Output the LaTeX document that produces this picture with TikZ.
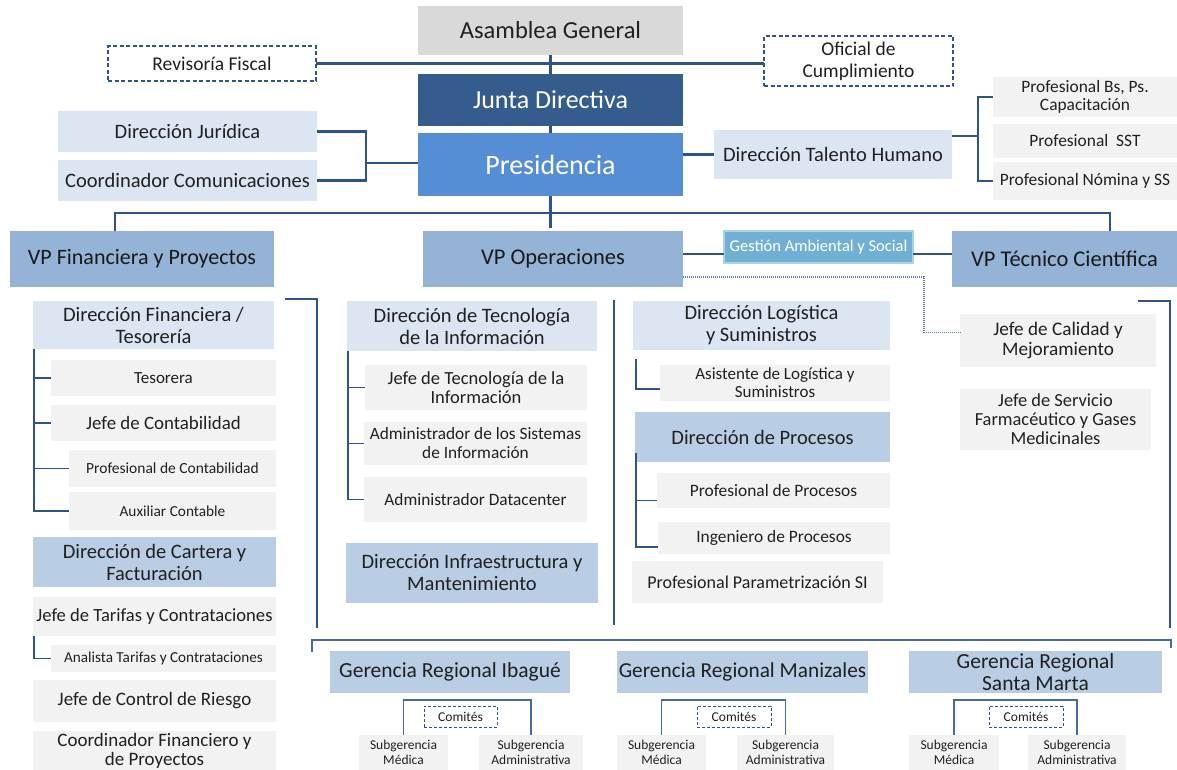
\documentclass[tikz,border=0pt]{standalone}
\usepackage{fontspec}
\setmainfont{Carlito}
\usetikzlibrary{calc}

\definecolor{lnc}{RGB}{47,84,140}
\definecolor{lnr}{RGB}{70,108,158}
\definecolor{dotc}{RGB}{95,125,170}
\definecolor{txt}{RGB}{32,32,32}
\definecolor{asamc}{RGB}{217,217,217}
\definecolor{juntac}{RGB}{52,93,142}
\definecolor{presc}{RGB}{85,142,213}
\definecolor{ltc}{RGB}{220,230,242}
\definecolor{grc}{RGB}{242,242,242}
\definecolor{vpc}{RGB}{149,179,215}
\definecolor{mdc}{RGB}{185,205,229}
\definecolor{gasc}{RGB}{113,176,211}
\definecolor{gasb}{RGB}{168,212,230}

\newcommand\fz[2]{\fontsize{#1}{#2}\selectfont}

\tikzset{
  x=1pt, y=1pt,
  bx/.style={inner sep=0pt, outer sep=0pt, align=center, text=txt},
  rc/.style args={#1/#2/#3/#4}{at={({(#1+#3)/2},{-(#2+#4)/2})},
      minimum width={(#3)-(#1)}, minimum height={(#4)-(#2)}},
  grbox/.style={bx, fill=grc},
  ltbox/.style={bx, fill=ltc},
  mdbox/.style={bx, fill=mdc},
  vpbox/.style={bx, fill=vpc, text=black!90},
  dsbox/.style={bx, fill=white, draw=lnc, line width=1.2pt, dash pattern=on 4pt off 2.5pt},
  ln/.style={draw=lnc, line width=2.2pt},
  lns/.style={draw=lnc, line width=1.6pt},
  lnreg/.style={draw=lnr, line width=1.5pt},
  dotl/.style={draw=dotc, line width=1.3pt, dash pattern=on 1pt off 1pt},
}

\begin{document}
\begin{tikzpicture}
\path[use as bounding box] (0,0) rectangle (1177,-769);

% ---- top governance ----
\node[bx, fill=asamc, rc=418/6/683/55, font=\fz{24.5}{26}] (asam) {Asamblea General};
\node[dsbox, rc=108/46/316/81, font=\fz{19.5}{21}] (rev) {Revisoría Fiscal};
\node[dsbox, rc=764/36/953/86, font=\fz{19.5}{22}] (ofi) {Oficial de\\Cumplimiento};
\node[bx, fill=juntac, text=white, rc=418/74/683/126, font=\fz{26}{28}] (junta) {Junta Directiva};
\node[bx, fill=presc, text=white, rc=418/133/683/196, font=\fz{28}{30}] (pres) {Presidencia};

\node[ltbox, rc=58/111/317/152, font=\fz{20.5}{22}] (jur) {Dirección Jurídica};
\node[ltbox, rc=58/160/317/201, font=\fz{20.5}{22}] (coo) {Coordinador Comunicaciones};
\node[ltbox, rc=714/130/952/179, font=\fz{20.5}{22}] (tal) {Dirección Talento Humano};

\node[grbox, rc=993/77/1177/117, font=\fz{17.4}{17.5}] (bs) {Profesional Bs, Ps.\\Capacitación};
\node[grbox, rc=993/124/1177/158, font=\fz{17.4}{18}] (sst) {Profesional\ \ SST};
\node[grbox, rc=993/162/1177/200, font=\fz{17.4}{18}] (nom) {Profesional Nómina y SS};

% ---- vice presidencies ----
\node[vpbox, rc=10/231/274/287, font=\fz{22}{24}] (vpf) {VP Financiera y Proyectos};
\node[vpbox, rc=423/231/683/287, font=\fz{22.5}{24}] (vpo) {VP Operaciones};
\node[bx, fill=gasc, draw=gasb, line width=1.2pt, text=white, rc=724/231/913/263, font=\fz{16.5}{18}] (gas) {Gestión Ambiental y Social};
\node[vpbox, rc=952/231/1177/287, font=\fz{22.5}{24}] (vpt) {VP Técnico Científica};

% ---- financial column ----
\node[ltbox, rc=33/301/274/349, font=\fz{20.5}{22}] (dfin) {Dirección Financiera /\\Tesorería};
\node[grbox, rc=51/360/276/396, font=\fz{17}{18}] (tes) {Tesorera};
\node[grbox, rc=51/405/276/441, font=\fz{18.9}{20}] (con) {Jefe de Contabilidad};
\node[grbox, rc=69/450/276/487, font=\fz{15.5}{17}] (pcon) {Profesional de Contabilidad};
\node[grbox, rc=69/492/276/530, font=\fz{15.3}{17}] (aux) {Auxiliar Contable};
\node[mdbox, rc=33/537/276/587, font=\fz{20.5}{22}] (dcar) {Dirección de Cartera y\\Facturación};
\node[grbox, rc=33/597/276/636, font=\fz{18.6}{20}] (jtar) {Jefe de Tarifas y Contrataciones};
\node[grbox, rc=51/645/276/672, font=\fz{15.2}{17}] (ana) {Analista Tarifas y Contrataciones};
\node[grbox, rc=33/680/276/722, font=\fz{19}{20}] (jcr) {Jefe de Control de Riesgo};
\node[grbox, rc=33/731/276/771, font=\fz{19}{19.5}] (cfp) {Coordinador Financiero y\\de Proyectos};

% ---- operations column ----
\node[ltbox, rc=347/301/597/351, font=\fz{20.5}{22}] (dti) {Dirección de Tecnología\\de la Información};
\node[grbox, rc=365/365/587/410, font=\fz{18.5}{19}] (jti) {Jefe de Tecnología de la\\Información};
\node[grbox, rc=364/422/587/465, font=\fz{17.3}{19}] (asi) {Administrador de los Sistemas\\de Información};
\node[grbox, rc=364/477/587/522, font=\fz{17.3}{19}] (adc) {Administrador Datacenter};
\node[mdbox, rc=346/543/598/603, font=\fz{20.5}{22}] (dinf) {Dirección Infraestructura y\\Mantenimiento};

\node[ltbox, rc=633/301/890/350, font=\fz{20.5}{22}] (dlog) {Dirección Logística\\y Suministros};
\node[grbox, rc=660/365/890/401, font=\fz{17}{18}] (asis) {Asistente de Logística y\\Suministros};
\node[mdbox, rc=635/412/890/462, font=\fz{20.5}{22}] (dpro) {Dirección de Procesos};
\node[grbox, rc=657/473/890/508, font=\fz{17.4}{19}] (prp) {Profesional de Procesos};
\node[grbox, rc=658/522/890/554, font=\fz{17.4}{19}] (ing) {Ingeniero de Procesos};
\node[grbox, rc=632/561/883/603, font=\fz{18}{19}] (ppsi) {Profesional Parametrización SI};

% ---- technical column ----
\node[grbox, rc=960/314/1156/367, font=\fz{19.2}{20}] (cal) {Jefe de Calidad y\\Mejoramiento};
\node[grbox, rc=960/389/1151/450, font=\fz{18.4}{19}] (jsf) {Jefe de Servicio\\Farmacéutico y Gases\\Medicinales};

% ---- regional offices ----
\node[mdbox, rc=330/651/570/693, font=\fz{21.5}{22}] (gri) {Gerencia Regional Ibagué};
\node[mdbox, rc=617/651/868/693, font=\fz{21.3}{22}] (grm) {Gerencia Regional Manizales};
\node[mdbox, rc=909/651/1162/693, font=\fz{21.5}{22}] (grs) {Gerencia Regional\\Santa Marta};

\node[dsbox, rc=424/706/497/727, line width=1pt, dash pattern=on 3pt off 2pt, font=\fz{13.5}{14}] (com1) {Comités};
\node[grbox, rc=359/735/448/770, font=\fz{13.5}{15}] (smed1) {Subgerencia\\Médica};
\node[grbox, rc=479/735/583/770, font=\fz{13.5}{15}] (sadm1) {Subgerencia\\Administrativa};

\node[dsbox, rc=697/706/771/727, line width=1pt, dash pattern=on 3pt off 2pt, font=\fz{13.5}{14}] (com2) {Comités};
\node[grbox, rc=617/735/706/770, font=\fz{13.5}{15}] (smed2) {Subgerencia\\Médica};
\node[grbox, rc=737/735/834/770, font=\fz{13.5}{15}] (sadm2) {Subgerencia\\Administrativa};

\node[dsbox, rc=989/706/1063/727, line width=1pt, dash pattern=on 3pt off 2pt, font=\fz{13.5}{14}] (com3) {Comités};
\node[grbox, rc=909/735/999/770, font=\fz{13.5}{15}] (smed3) {Subgerencia\\Médica};
\node[grbox, rc=1028/735/1126/770, font=\fz{13.5}{15}] (sadm3) {Subgerencia\\Administrativa};

% ---- connectors: governance ----
\draw[ln] (asam.south) -- (junta.north);
\draw[ln] (rev.east) -- (rev.east -| ofi.west);
\draw[ln] (junta.south) -- (pres.north);
\coordinate (jb) at (366,-163);
\draw[ln] (jur.east) -| (jb) |- (coo.east);
\draw[ln] (jb) -- (jb -| pres.west);
\draw[ln] (tal.west -| pres.east) -- (tal.west);
\coordinate (tb) at (978,-136);
\draw[ln] (tb -| tal.east) -- (tb);
\draw[ln] (bs.west) -| (tb |- nom.west) -- (nom.west);

% ---- connectors: presidency to vice presidencies ----
\coordinate (tl) at (115,-213);
\coordinate (tr) at (1110,-213);
\draw[ln] (tl |- vpf.north) -- (tl) -- (tr) -- (tr |- vpt.north);
\draw[ln] (pres.south) -- ++(0,-32);
\coordinate (gl) at (0,-254);
\draw[lns] (vpo.east |- gl) -- (gas.west |- gl);
\draw[lns] (gas.east |- gl) -- (vpt.west |- gl);
\coordinate (dq) at (924,-277);
\draw[dotl] (vpo.east |- dq) -- (dq) |- ($(cal.west)+(0,8)$);

% ---- column brackets ----
\coordinate (lbA) at (285,-299);
\coordinate (lbB) at (317,-628);
\draw[ln] (lbA) -| (lbB);
\coordinate (mA) at (614,-300);
\coordinate (mB) at (614,-625);
\draw[ln] (mA) -- (mB);
\coordinate (rA) at (1138,-301);
\coordinate (rB) at (1170,-628);
\draw[ln] (rA) -| (rB);
\coordinate (gA) at (312,-652);
\coordinate (gT) at (312,-640);
\coordinate (gB) at (1171,-648);
\draw[lnreg] (gA) -- (gT) -| (gB);

% ---- connectors: financial column ----
\coordinate (fv) at (34,-349);
\draw[lns] (fv) |- (aux.west);
\foreach \n in {tes,con,pcon} \draw[lns] (fv |- \n.west) -- (\n.west);
\draw[lns] ($(jtar.south west)+(1,0)$) |- (ana.west);

% ---- connectors: operations column ----
\coordinate (tv) at (348,-351);
\draw[lns] (tv) |- (adc.west);
\foreach \n in {jti,asi} \draw[lns] (tv |- \n.west) -- (\n.west);
\coordinate (lv) at (636,-359);
\draw[lns] (lv) |- ($(asis.west)+(0,-6)$);
\coordinate (pv) at (636,-453);
\draw[lns] (pv) |- ($(ing.west)+(0,-9)$);
\coordinate (pa) at ($(prp.west)+(0,-10)$);
\draw[lns] (pv |- pa) -- (pa);

% ---- connectors: regional offices ----
\draw[lnreg] (smed1.north) |- ($(com1.north)+(0,6)$) -| (sadm1.north);
\draw[lnreg] (smed2.north) |- ($(com2.north)+(0,6)$) -| (sadm2.north);
\draw[lnreg] (smed3.north) |- ($(com3.north)+(0,6)$) -| (sadm3.north);
\end{tikzpicture}
\end{document}
